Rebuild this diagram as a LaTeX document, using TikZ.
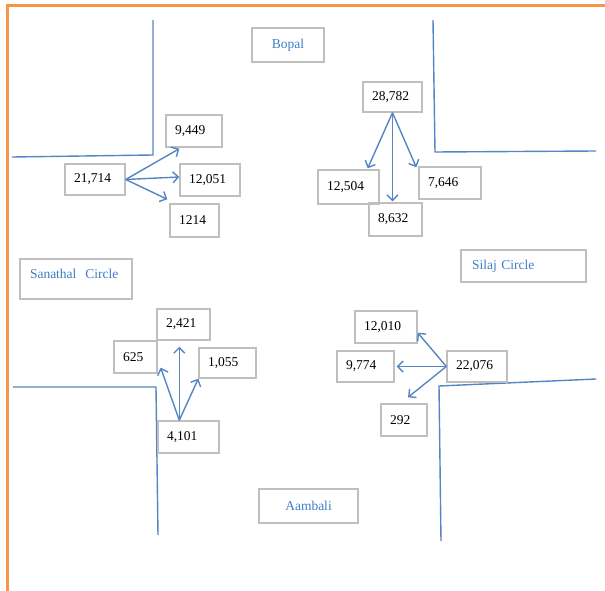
\documentclass[tikz,border=0pt]{standalone}
\usepackage{fontspec}
\setmainfont{Liberation Serif}
\usetikzlibrary{arrows.meta,calc}

\definecolor{frameorange}{HTML}{F79646}
\definecolor{roadblue}{HTML}{5585C4}
\definecolor{boxgray}{HTML}{BFBFBF}
\definecolor{placeblue}{HTML}{3C7DC4}

\tikzset{
  road/.style={draw=roadblue, line width=1.4pt, line join=miter},
  flow/.style={draw=roadblue, line width=1.4pt,
    -{Straight Barb[length=5.5pt,width=11pt,line width=1.4pt]}},
  countbox/.style={draw=boxgray, line width=1.4pt, font=\fontsize{13.5}{16}\selectfont,
    align=left, inner xsep=9pt, inner ysep=0pt},
  placebox/.style={draw=boxgray, line width=1.4pt, font=\fontsize{13.5}{16}\selectfont,
    text=placeblue, inner ysep=0pt},
}

\begin{document}
\begin{tikzpicture}[x=1pt,y=-1pt]
\useasboundingbox (0,0) rectangle (605,591);

% outer frame
\draw[frameorange, line width=3pt] (7,591) -- (7,6) -- (605,6);

% road kerbs
\draw[road] (153,20) -- (153,155) -- (12,157);
\draw[road] (433,20) -- (435,152) -- (596,151);
\draw[road] (13,387) -- (156,387) -- (158,535);
\draw[road] (596,379) -- (439,386) -- (441,541);

% place names
\node[placebox, minimum width=72pt, minimum height=34pt] (bopal) at (288,45) {Bopal};
\node[placebox, minimum width=99pt, minimum height=34pt] (aambali) at (308.5,506) {Aambali};
\node[placebox, align=left, text width=104pt, inner xsep=4pt, text height=19pt, text depth=21pt, inner ysep=0pt]
  (sanathal) at (76,279) {\hspace*{6pt}Sanathal\ \ Circle};
\node[placebox, align=left, text width=103pt, inner xsep=11pt, minimum height=32pt]
  (silaj) at (523.5,266) {Silaj Circle};

% Bopal approach
\node[countbox, text width=41pt, minimum height=30pt] (n28782) at (392.5,97) {28,782};
\node[countbox, text width=43pt, minimum height=34pt] (n12504) at (348.5,187) {12,504};
\node[countbox, text width=35pt, minimum height=33pt] (n8632) at (395.5,219.5) {8,632};
\node[countbox, text width=44pt, minimum height=32pt] (n7646) at (450,183) {7,646};

% Sanathal approach
\node[countbox, text width=42pt, minimum height=31pt] (n21714) at (95,179.5) {21,714};
\node[countbox, text width=38pt, minimum height=32pt] (n9449) at (194,131) {9,449};
\node[countbox, text width=42pt, minimum height=32pt] (n12051) at (210,180) {12,051};
\node[countbox, text width=31pt, minimum height=33pt] (n1214) at (194.5,220.5) {1214};

% Aambali approach
\node[countbox, text width=35pt, minimum height=31pt] (n2421) at (183.5,324.5) {2,421};
\node[countbox, text width=25pt, minimum height=32pt] (n625) at (135.5,357) {625};
\node[countbox, text width=39pt, minimum height=30pt] (n1055) at (227.5,363) {1,055};
\node[countbox, text width=43pt, minimum height=32pt] (n4101) at (188.5,437) {4,101};

% Silaj approach
\node[countbox, text width=44pt, minimum height=32pt] (n12010) at (386,327) {12,010};
\node[countbox, text width=39pt, minimum height=31pt] (n9774) at (365.5,366.5) {9,774};
\node[countbox, text width=42pt, minimum height=31pt] (n22076) at (477,366.5) {22,076};
\node[countbox, text width=28pt, minimum height=32pt] (n292) at (404,420) {292};

% turning flows
\draw[flow] (n21714.east) -- ($(n9449.south west)+(14,1)$);
\draw[flow] (n21714.east) -- ($(n12051.west)+(0,-3)$);
\draw[flow] (n21714.east) -- ($(n1214.north west)+(-2,-4)$);

\draw[flow] (n28782.south) -- ($(n12504.north east)+(-12,-1)$);
\draw[flow] (n28782.south) -- ($(n28782.south |- n8632.north)+(0,-1)$);
\draw[flow] (n28782.south) -- ($(n7646.north west)+(-2,1)$);

\coordinate (s4101) at ($(n4101.north west)+(22,0)$);
\draw[flow] (s4101) -- ($(s4101 |- n2421.south)+(0,6)$);
\draw[flow] (s4101) -- ($(n625.south east)+(3,-6)$);
\draw[flow] (s4101) -- (n1055.south west);

\draw[flow] (n22076.west) -- ($(n12010.south east)+(0,-11)$);
\draw[flow] (n22076.west) -- ($(n9774.east)+(2,0)$);
\draw[flow] (n22076.west) -- ($(n292.north)+(4,-6)$);
\end{tikzpicture}
\end{document}
